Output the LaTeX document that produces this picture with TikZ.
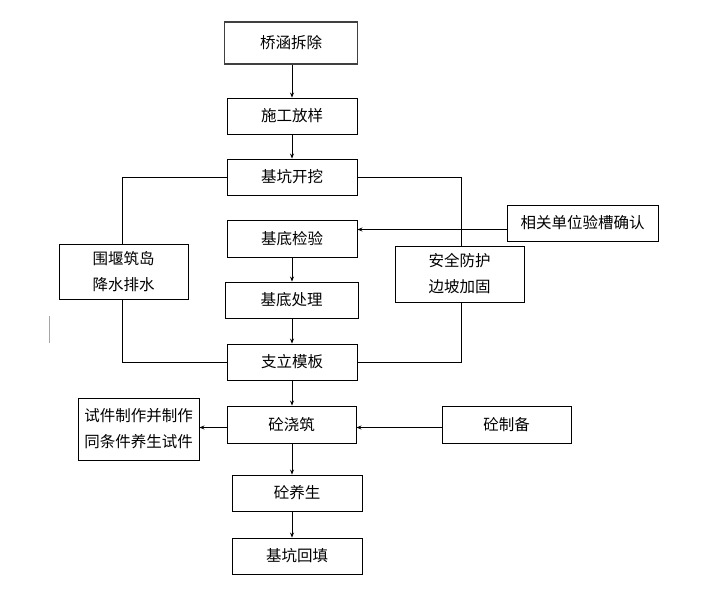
\documentclass[tikz,border=0pt]{standalone}
\usepackage{fontspec}
\setmainfont{Noto Sans CJK SC}
\usetikzlibrary{arrows.meta}
\begin{document}
\begin{tikzpicture}[x=1pt,y=-1pt,
  box/.style={draw, line width=0.9pt, inner sep=0pt, align=center,
    font=\fontsize{15.5}{26}\selectfont},
  topbox/.style={box, line width=1.8pt, draw=black!75},
  arr/.style={line width=0.9pt, -{Stealth[length=5pt,width=4pt]}},
  ln/.style={line width=0.9pt}]
\useasboundingbox (0,0) rectangle (715,600);
\node[topbox, minimum width=133pt, minimum height=42pt] (n1) at (291,43) {桥涵拆除};
\node[box, minimum width=130pt, minimum height=36pt] (n2) at (292,116) {施工放样};
\node[box, minimum width=130pt, minimum height=36pt] (n3) at (292,177) {基坑开挖};
\node[box, minimum width=130pt, minimum height=37pt] (n4) at (292,238.5) {基底检验};
\node[box, minimum width=133pt, minimum height=36pt] (n5) at (291.5,300) {基底处理};
\node[box, minimum width=130pt, minimum height=36pt] (n6) at (292,362) {支立模板};
\node[box, minimum width=129pt, minimum height=37pt] (n7) at (291.5,424.5) {砼浇筑};
\node[box, minimum width=130pt, minimum height=36pt] (n8) at (297,493) {砼养生};
\node[box, minimum width=130pt, minimum height=36pt] (n9) at (297,556) {基坑回填};
\node[box, minimum width=129pt, minimum height=55pt] (l1) at (123.5,271.5) {围堰筑岛\\降水排水};
\node[box, minimum width=129pt, minimum height=56pt] (r1) at (459.5,274) {安全防护\\边坡加固};
\node[box, minimum width=151pt, minimum height=36pt] (r0) at (582.5,223) {相关单位验槽确认};
\node[box, minimum width=121pt, minimum height=62pt] (l2) at (138.5,429) {试件制作并制作\\同条件养生试件};
\node[box, minimum width=129pt, minimum height=37pt] (r2) at (506.5,424.5) {砼制备};
% main flow
\draw[arr] (n1.south -| 292,0) -- (n2.north -| 292,0);
\draw[arr] (n2.south -| 292,0) -- (n3.north -| 292,0);
\draw[arr] (n4.south -| 292,0) -- (n5.north -| 292,0);
\draw[arr] (n5.south -| 292,0) -- (n6.north -| 292,0);
\draw[arr] (n6.south -| 292,0) -- (n7.north -| 292,0);
\draw[arr] (n7.south -| 292,0) -- (n8.north -| 292,0);
\draw[arr] (n8.south -| 292,0) -- (n9.north -| 292,0);
% side inputs
\draw[arr] (r0.west |- 0,229.5) -- (n4.east |- 0,229.5);
\draw[arr] (r2.west |- 0,427.5) -- (n7.east |- 0,427.5);
\draw[arr] (n7.west |- 0,427.5) -- (l2.east |- 0,427.5);
% brackets
\draw[ln] (n3.west) -| (l1.north -| 122,0);
\draw[ln] (l1.south -| 122,0) |- (n6.west);
\draw[ln] (n3.east) -| (r1.north -| 461,0);
\draw[ln] (r1.south -| 461,0) |- (n6.east);
% stray mark
\coordinate (m1) at (49.5,316);
\coordinate (m2) at (49.5,343);
\draw[black!35, line width=1pt] (m1) -- (m2);
\end{tikzpicture}
\end{document}
